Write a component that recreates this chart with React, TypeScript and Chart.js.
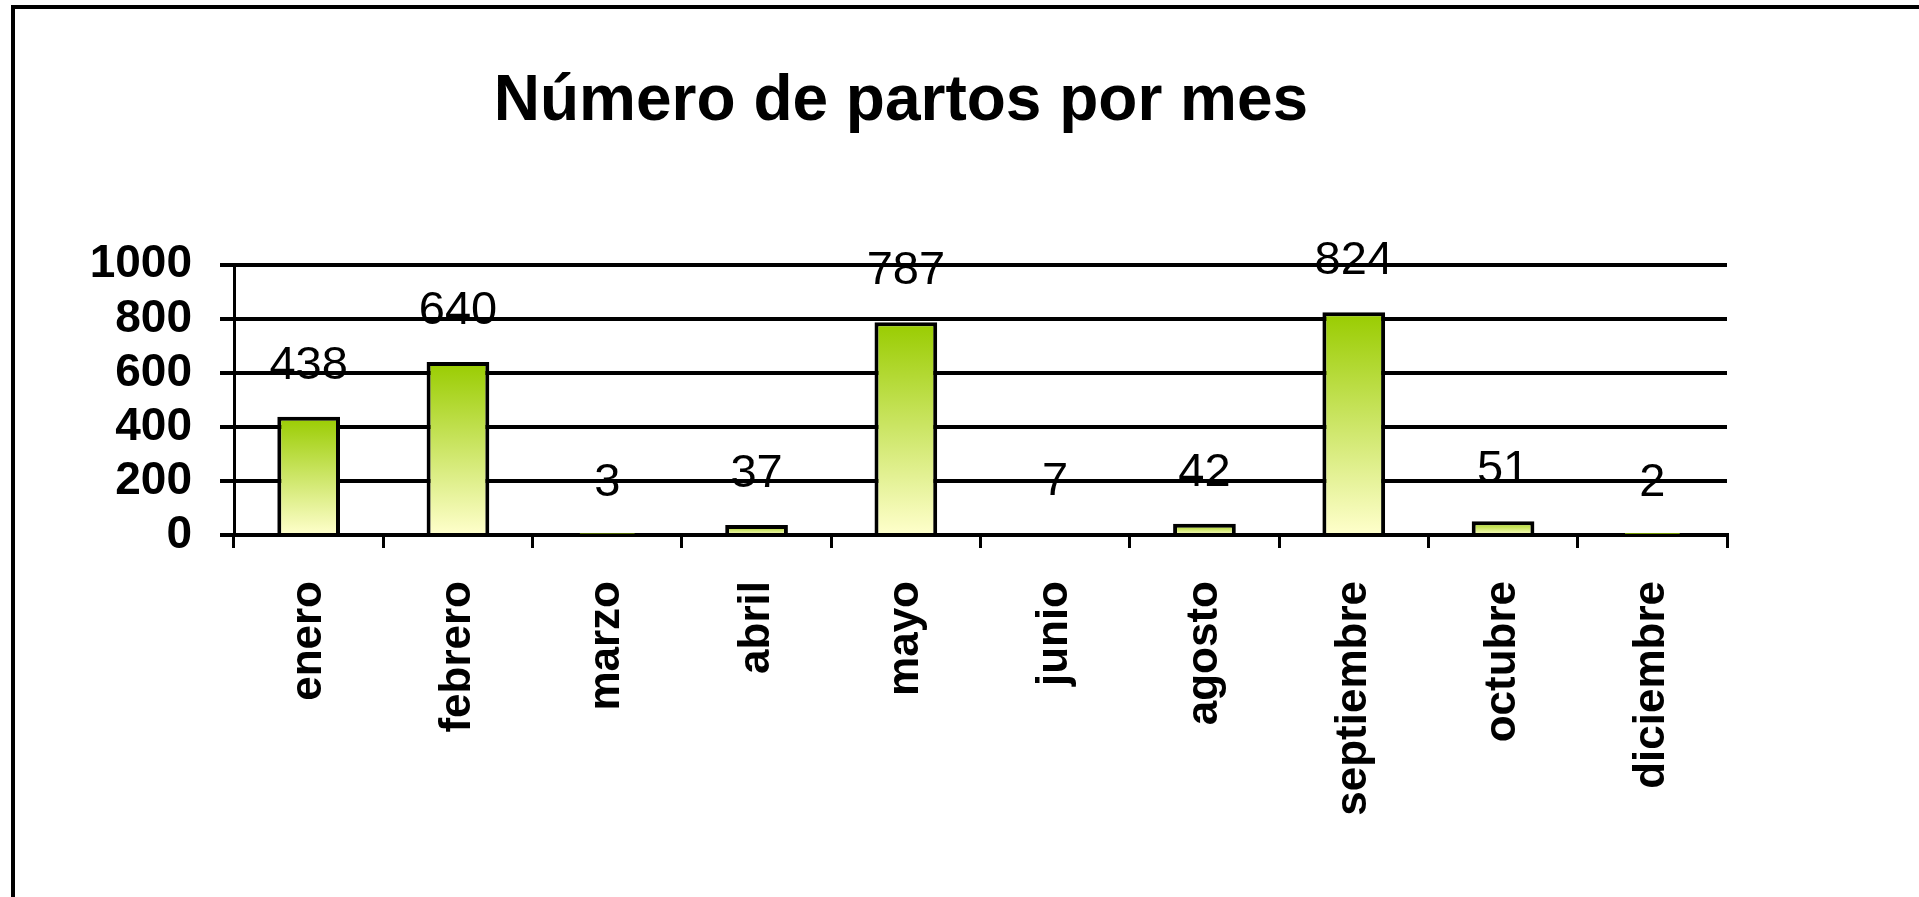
import React, { useEffect, useRef } from "react";
import { Chart, registerables } from "chart.js";

Chart.register(...registerables);

const chartTitle = "Número de partos por mes";
const categories = [
  "enero",
  "febrero",
  "marzo",
  "abril",
  "mayo",
  "junio",
  "agosto",
  "septiembre",
  "octubre",
  "diciembre",
];
const partos = [438, 640, 3, 37, 787, 7, 42, 824, 51, 2];
const yMin = 0;
const yMax = 1000;
const yStep = 200;

const FONT = "'Liberation Sans', Arial, Helvetica, sans-serif";
const TOP_GREEN = "#99cc00";
const BOTTOM_CREAM = "#ffffcc";

export default function App() {
  const canvasRef = useRef<HTMLCanvasElement | null>(null);

  useEffect(() => {
    const canvas = canvasRef.current;
    if (!canvas) return;

    const valueLabels = {
      id: "valueLabels",
      afterDatasetsDraw(chart: any) {
        const ctx = chart.ctx;
        const meta = chart.getDatasetMeta(0);
        const data = chart.data.datasets[0].data as number[];
        ctx.save();
        ctx.font = `47px ${FONT}`;
        ctx.fillStyle = "#000";
        ctx.textAlign = "center";
        ctx.textBaseline = "alphabetic";
        meta.data.forEach((el: any, i: number) => {
          ctx.fillText(String(data[i]), el.x, el.y - 38);
        });
        ctx.restore();
      },
    };

    const chart = new Chart(canvas, {
      type: "bar",
      data: {
        labels: categories,
        datasets: [
          {
            data: partos,
            backgroundColor: (c: any) => {
              const ch = c.chart;
              const area = ch.chartArea;
              const y = ch.scales && ch.scales.y;
              if (!area || !y || c.type !== "data" || !c.parsed) return TOP_GREEN;
              const top = y.getPixelForValue(c.parsed.y);
              const bottom = y.getPixelForValue(0);
              if (!isFinite(top) || !isFinite(bottom) || top === bottom) return BOTTOM_CREAM;
              const g = ch.ctx.createLinearGradient(0, top, 0, bottom);
              g.addColorStop(0, TOP_GREEN);
              g.addColorStop(1, BOTTOM_CREAM);
              return g;
            },
            borderColor: "#000",
            borderWidth: 4,
            borderSkipped: "start",
            barPercentage: 0.42,
            categoryPercentage: 1,
          },
        ],
      },
      options: {
        responsive: false,
        animation: false,
        events: [],
        layout: { padding: { left: 75, right: 192, top: 0, bottom: 0 } },
        plugins: {
          legend: { display: false },
          tooltip: { enabled: false },
          title: {
            display: true,
            text: chartTitle,
            color: "#000",
            font: { family: FONT, size: 64, weight: "bold" },
            padding: { top: 64, bottom: 124 },
          },
        },
        scales: {
          x: {
            grid: {
              display: true,
              drawOnChartArea: false,
              drawTicks: true,
              tickLength: 13,
              color: "#000",
              lineWidth: 3,
              offset: true,
            },
            border: { display: true, color: "#000", width: 4 },
            ticks: {
              color: "#000",
              font: { family: FONT, size: 44, weight: "bold" },
              minRotation: 90,
              maxRotation: 90,
              autoSkip: false,
              padding: 33,
            },
            afterFit: (s: any) => {
              s.height = 362;
            },
          },
          y: {
            min: yMin,
            max: yMax,
            ticks: {
              stepSize: yStep,
              autoSkip: false,
              color: "#000",
              font: { family: FONT, size: 46, weight: "bold" },
              padding: 28,
              callback: (v: any) => String(v),
            },
            grid: { color: "#000", lineWidth: 4, tickLength: 14 },
            border: { display: true, color: "#000", width: 3 },
            afterFit: (s: any) => {
              s.width = 159;
            },
          },
        },
      },
      plugins: [valueLabels],
    } as any);

    return () => chart.destroy();
  }, []);

  return (
    <div
      style={{
        position: "fixed",
        left: 0,
        top: 0,
        width: 1919,
        height: 897,
        background: "#fff",
        overflow: "hidden",
      }}
    >
      <canvas
        ref={canvasRef}
        width={1919}
        height={897}
        style={{ position: "absolute", left: 0, top: 0, width: 1919, height: 897 }}
      />
      <div
        style={{
          position: "absolute",
          left: 11,
          top: 5,
          width: 2000,
          height: 1000,
          borderLeft: "4px solid #000",
          borderTop: "4px solid #000",
          boxSizing: "border-box",
          pointerEvents: "none",
        }}
      />
    </div>
  );
}
